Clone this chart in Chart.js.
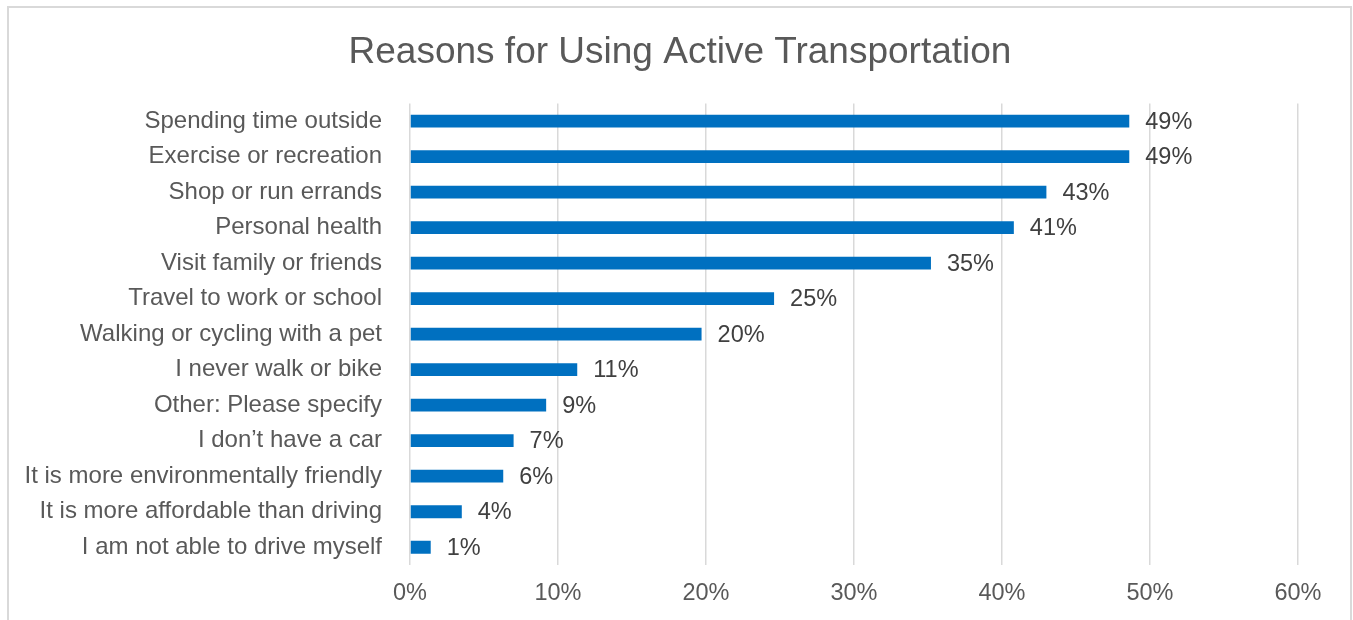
<!DOCTYPE html>
<html>
<head>
<meta charset="utf-8">
<title>Reasons for Using Active Transportation</title>
<script src="https://cdn.jsdelivr.net/npm/chart.js@4.4.1/dist/chart.umd.min.js"></script>
<style>
  html, body { margin: 0; padding: 0; background: #ffffff; overflow: hidden; }
  #wrap { position: relative; width: 1353px; height: 620px; }
  #frame { position: absolute; left: 7px; top: 6px; width: 1345px; height: 640px;
           border: 2px solid #d9d9d9; box-sizing: border-box; }
  #chart { position: absolute; left: 0; top: 0; }
</style>
</head>
<body>
<div id="wrap">
  <div id="frame"></div>
  <canvas id="chart" width="1353" height="620"></canvas>
</div>
<script>
// Survey answers, share of respondents (%)
const categories = [
  'Spending time outside',
  'Exercise or recreation',
  'Shop or run errands',
  'Personal health',
  'Visit family or friends',
  'Travel to work or school',
  'Walking or cycling with a pet',
  'I never walk or bike',
  'Other: Please specify',
  'I don\u2019t have a car',
  'It is more environmentally friendly',
  'It is more affordable than driving',
  'I am not able to drive myself'
];
const shares = [48.6, 48.6, 43.0, 40.8, 35.2, 24.6, 19.7, 11.3, 9.2, 7.0, 6.3, 3.5, 1.4];
const axisMin = 0;
const axisMax = 60;
const axisStep = 10;

const FONT = '"Liberation Sans", Arial, Helvetica, sans-serif';
Chart.defaults.font.family = FONT;

// Writes the rounded percentage just past the end of each bar
const barValueLabels = {
  id: 'barValueLabels',
  afterDatasetsDraw(chart) {
    const ctx = chart.ctx;
    const meta = chart.getDatasetMeta(0);
    ctx.save();
    ctx.font = '23.5px ' + FONT;
    ctx.fillStyle = '#404040';
    ctx.textAlign = 'left';
    ctx.textBaseline = 'middle';
    meta.data.forEach((bar, i) => {
      ctx.fillText(Math.round(shares[i]) + '%', bar.x + 16, bar.y + 1);
    });
    ctx.restore();
  }
};

new Chart(document.getElementById('chart'), {
  type: 'bar',
  data: {
    labels: categories,
    datasets: [{
      data: shares,
      backgroundColor: '#0070C0',
      borderWidth: 0,
      barPercentage: 0.36,
      categoryPercentage: 1.0
    }]
  },
  options: {
    indexAxis: 'y',
    responsive: false,
    animation: false,
    layout: { padding: { left: 7, right: 0, top: 0, bottom: 0 } },
    plugins: {
      legend: { display: false },
      tooltip: { enabled: false },
      title: {
        display: true,
        text: 'Reasons for Using Active Transportation',
        color: '#595959',
        font: { size: 37, weight: 'normal', family: FONT },
        padding: { top: 31, bottom: 28 }
      }
    },
    scales: {
      x: {
        min: axisMin,
        max: axisMax,
        grid: { color: '#d9d9d9', lineWidth: 1.5, drawTicks: false },
        border: { display: false },
        ticks: {
          stepSize: axisStep,
          padding: 14,
          color: '#595959',
          font: { size: 23.5, family: FONT },
          callback: v => v + '%'
        },
        afterFit(scale) { scale.height = 55; }
      },
      y: {
        grid: { display: false, drawTicks: false },
        border: { display: false },
        ticks: {
          padding: 28,
          color: '#595959',
          font: { size: 24, family: FONT },
          autoSkip: false
        },
        afterFit(scale) { scale.width = 403; }
      },
      // empty right-hand margin box so the plot ends at the 60% line
      rightMargin: {
        type: 'linear',
        position: 'right',
        display: true,
        grid: { display: false, drawTicks: false },
        border: { display: false },
        ticks: { display: false },
        afterFit(scale) { scale.width = 55; }
      }
    }
  },
  plugins: [barValueLabels]
});
</script>
</body>
</html>
